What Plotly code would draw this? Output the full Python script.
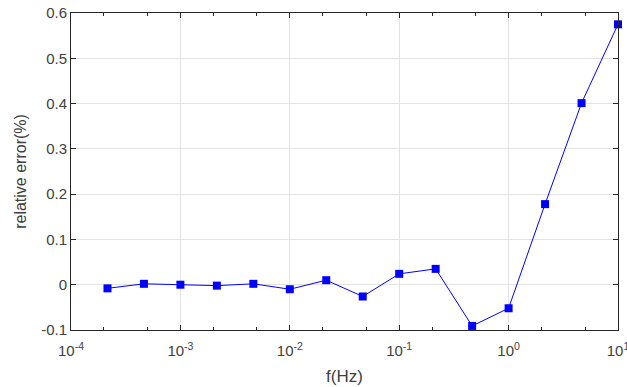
import plotly.graph_objects as go

freq = [2.154e-4, 4.642e-4, 1e-3, 2.154e-3, 4.642e-3, 1e-2, 2.154e-2, 4.642e-2,
        0.1, 0.2154, 0.4642, 1.0, 2.154, 4.642, 10.0]
rel_err = [-0.008, 0.002, 0.000, -0.002, 0.002, -0.010, 0.010, -0.026,
           0.024, 0.035, -0.091, -0.052, 0.178, 0.401, 0.575]

x_tickvals = [1e-4, 1e-3, 1e-2, 1e-1, 1e0, 1e1]
x_ticktext = ["10<sup>-4</sup>", "10<sup>-3</sup>", "10<sup>-2</sup>",
              "10<sup>-1</sup>", "10<sup>0</sup>", "10<sup>1</sup>"]
y_tickvals = [-0.1, 0, 0.1, 0.2, 0.3, 0.4, 0.5, 0.6]
y_ticktext = ["-0.1", "0", "0.1", "0.2", "0.3", "0.4", "0.5", "0.6"]

axis_col = "#262626"
text_col = "#404040"

fig = go.Figure()
fig.add_trace(go.Scatter(
    x=freq, y=rel_err, mode="lines+markers",
    line=dict(color="#0000ff", width=1),
    marker=dict(symbol="square", size=8, color="#0000ff"),
    cliponaxis=False,
))

fig.update_layout(
    width=627, height=387,
    margin=dict(l=71, r=9, t=13, b=57),
    paper_bgcolor="white", plot_bgcolor="white",
    showlegend=False,
    font=dict(family="Liberation Sans, Arial, sans-serif", size=15, color=text_col),
)
fig.update_xaxes(
    type="log", range=[-4, 1], automargin=False,
    tickvals=x_tickvals, ticktext=x_ticktext,
    ticks="inside", ticklen=5, tickcolor=axis_col,
    ticklabeloverflow="allow", ticklabelstandoff=7,
    showline=True, linecolor=axis_col, linewidth=1, mirror="ticks",
    showgrid=True, gridcolor="#e3e3e3", gridwidth=1,
    zeroline=False,
    minor=dict(ticks="inside", ticklen=3, tickcolor=axis_col, showgrid=False),
    title=dict(text="f(Hz)", font=dict(size=17, color=text_col), standoff=12),
    tickfont=dict(size=15, color=text_col),
)
fig.update_yaxes(
    range=[-0.1, 0.6], automargin=False,
    tickvals=y_tickvals, ticktext=y_ticktext,
    ticks="inside", ticklen=5, tickcolor=axis_col,
    showline=True, linecolor=axis_col, linewidth=1, mirror="ticks",
    showgrid=True, gridcolor="#e3e3e3", gridwidth=1,
    zeroline=False,
    title=dict(text="relative error(%)", font=dict(size=16, color=text_col), standoff=10),
    tickfont=dict(size=15, color=text_col),
)

fig.write_html("out.html",
               config={"displayModeBar": False},
               post_script="document.body.style.margin='0px';document.body.style.overflow='hidden';")
